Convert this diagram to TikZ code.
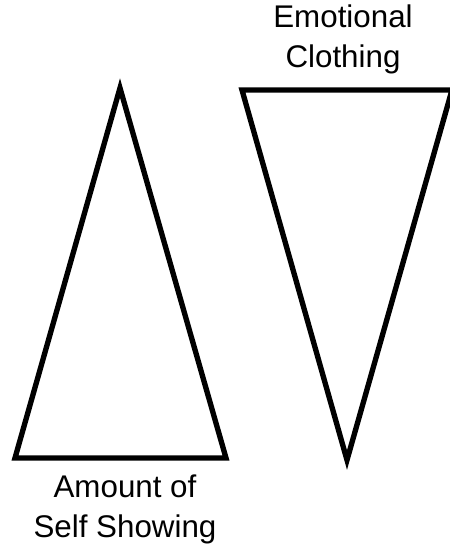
\documentclass[tikz,border=0pt]{standalone}
\usepackage{fontspec}
\setmainfont{Liberation Sans}
\usetikzlibrary{positioning}

\begin{document}
\begin{tikzpicture}[x=0.75pt,y=-0.75pt]
\tikzset{label text/.style={font=\fontsize{23.5}{29.3}\selectfont, align=center, inner sep=0pt}}
\useasboundingbox (0,0) rectangle (450,551);
\clip (0,0) rectangle (450,551);

\draw[line width=4pt, line join=miter] (120,88) -- (226,458) -- (15,458) -- cycle;
\draw[line width=4pt, line join=miter] (242,90) -- (452,90) -- (347,460) -- cycle;

\node[label text, anchor=base] (clothing) at (343,67) {Emotional\\Clothing};
\node[label text, anchor=base] (showing) at (125,537) {Amount of\\Self Showing};
\end{tikzpicture}
\end{document}
